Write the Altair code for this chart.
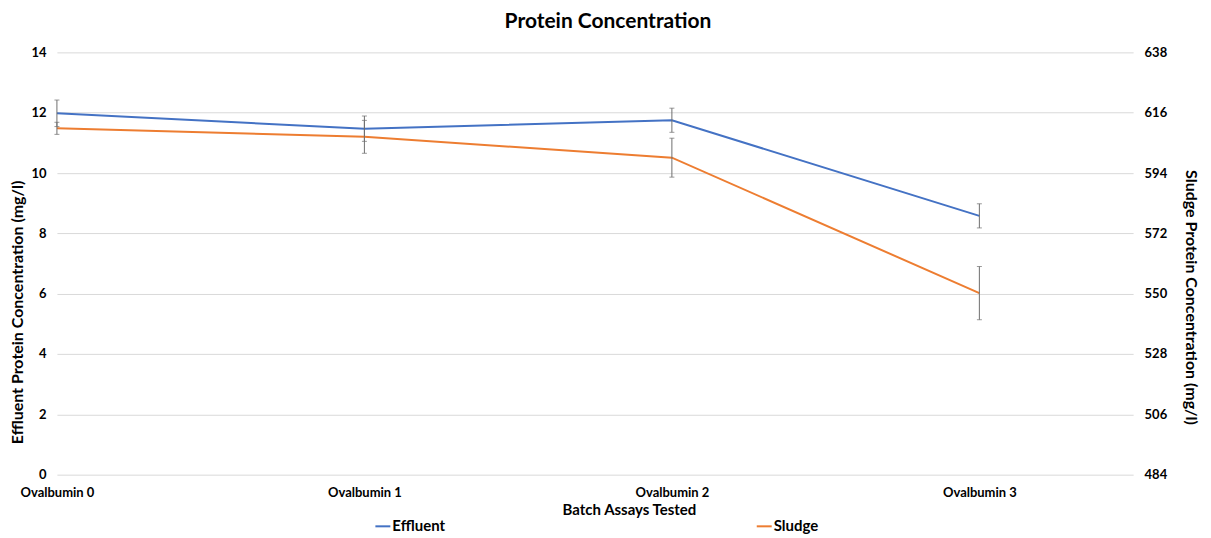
import altair as alt
import pandas as pd

batch = ["Ovalbumin 0", "Ovalbumin 1", "Ovalbumin 2", "Ovalbumin 3"]
effluent = [11.98, 11.47, 11.75, 8.58]
effluent_err = [0.44, 0.42, 0.40, 0.40]
sludge = [610.3, 607.2, 599.6, 550.2]
sludge_err = [2.2, 6.0, 7.1, 9.7]
left_ticks = [0, 2, 4, 6, 8, 10, 12, 14]
right_ticks = [484, 506, 528, 550, 572, 594, 616, 638]
series_names = ["Effluent", "Sludge"]
series_colors = ["#4472C4", "#ED7D31"]

rows = []
for b, v, e in zip(batch, effluent, effluent_err):
    rows.append({"batch": b, "series": "Effluent", "value": v, "lo": v - e, "hi": v + e})
for b, v, e in zip(batch, sludge, sludge_err):
    rows.append({"batch": b, "series": "Sludge", "value": v, "lo": v - e, "hi": v + e})
df = pd.DataFrame(rows)

FONT = "Lato"
xenc = alt.X("batch:N", sort=batch,
             scale=alt.Scale(type="point", domain=batch, padding=0.25, align=0),
             axis=alt.Axis(title="Batch Assays Tested", labelAngle=0, domain=False, ticks=False,
                           grid=False, labelPadding=12, labelFont=FONT, labelFontSize=13,
                           labelFontWeight="bold", labelColor="#000000",
                           titleFont=FONT, titleFontSize=15, titleFontWeight="bold",
                           titleColor="#000000", titlePadding=3, titleX=573))

def panel(name, domain, ticks, orient, title, grid, tpad, ty):
    scale = alt.Scale(domain=[domain[0], domain[-1]], nice=False, zero=False)
    axis = alt.Axis(values=ticks, orient=orient, title=title, grid=grid, gridColor="#d9d9d9",
                    domain=False, ticks=False, labelPadding=11, labelFont=FONT,
                    labelFontSize=13, labelFontWeight="bold", labelColor="#000000",
                    titleFont=FONT, titleFontSize=16, titleFontWeight="bold",
                    titleColor="#000000", titlePadding=tpad, titleY=ty)
    base = alt.Chart(df).transform_filter(alt.datum.series == name)
    line = base.mark_line(strokeWidth=2).encode(
        x=xenc,
        y=alt.Y("value:Q", scale=scale, axis=axis),
        color=alt.Color("series:N", scale=alt.Scale(domain=series_names, range=series_colors),
                        legend=alt.Legend(orient="none", legendX=318, legendY=466,
                                          direction="horizontal", columns=2, columnPadding=308,
                                          symbolType="stroke", symbolSize=225,
                                          symbolStrokeWidth=2, labelFont=FONT,
                                          labelFontSize=15, labelFontWeight="bold",
                                          labelColor="#000000", labelOffset=1, title=None)),
    )
    rule = base.mark_rule(color="#6e6e6e", strokeWidth=1).encode(
        x=xenc, y=alt.Y("lo:Q", scale=scale, axis=axis), y2="hi:Q")
    tlo = base.mark_tick(color="#6e6e6e", thickness=1, size=5).encode(
        x=xenc, y=alt.Y("lo:Q", scale=scale, axis=axis))
    thi = base.mark_tick(color="#6e6e6e", thickness=1, size=5).encode(
        x=xenc, y=alt.Y("hi:Q", scale=scale, axis=axis))
    return alt.layer(line, rule, tlo, thi)

left = panel("Effluent", left_ticks, left_ticks, "left",
             "Effluent Protein Concentration (mg/l)", True, 5, 260)
right = panel("Sludge", right_ticks, right_ticks, "right",
              "Sludge Protein Concentration (mg/l)", False, 16, 245)

chart = alt.layer(left, right).resolve_scale(y="independent").properties(
    width=1078, height=423,
    title=alt.TitleParams("Protein Concentration", font=FONT, fontSize=21, fontWeight="bold",
                          color="#000000", anchor="middle", offset=14, dx=13),
    autosize=alt.AutoSizeParams(type="none"),
    padding={"left": 49, "top": 44, "right": 70, "bottom": 60},
).configure_view(stroke=None)

chart.save("out.html", embed_options={"renderer": "svg", "actions": False})
